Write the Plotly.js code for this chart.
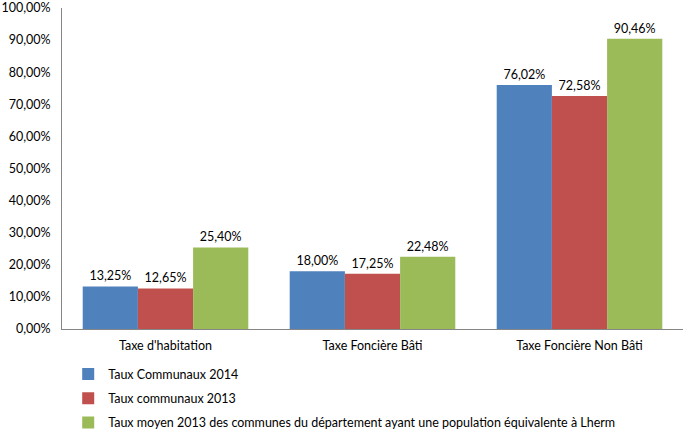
<!DOCTYPE html>
<html>
<head>
<meta charset="utf-8">
<script src="https://cdn.plot.ly/plotly-3.0.1.min.js"></script>
<style>html,body{margin:0;padding:0;background:#fff;}#chart{width:687px;height:434px;}</style>
</head>
<body>
<div id="chart"></div>
<script>
const categories = ["Taxe d'habitation", "Taxe Foncière Bâti", "Taxe Foncière Non Bâti"];
const seriesNames = ["Taux Communaux 2014", "Taux communaux 2013", "Taux moyen 2013 des communes du département ayant une population équivalente à Lherm"];
const taux2014 = [13.25, 18.00, 76.02];
const taux2013 = [12.65, 17.25, 72.58];
const tauxMoyen = [25.40, 22.48, 90.46];
const colors = ["#4F81BD", "#C0504D", "#9BBB59"];
const yTicks = [0,10,20,30,40,50,60,70,80,90,100];
const yTickLabels = ["0,00%","10,00%","20,00%","30,00%","40,00%","50,00%","60,00%","70,00%","80,00%","90,00%","100,00%"];

const font = {family: "Lato, 'Open Sans', sans-serif", size: 12.5, color: "#000"};
const series = [taux2014, taux2013, tauxMoyen];
const traces = series.map((vals, i) => ({
  type: 'bar', x: categories, y: vals, name: seriesNames[i],
  marker: {color: colors[i]},
  text: vals.map(v => v.toFixed(2).replace('.', ',') + '%'),
  texttemplate: '%{text}', textposition: 'outside', cliponaxis: false,
  textfont: font, legendgroup: 'g' + i, hoverinfo: 'none'
}));

Plotly.newPlot('chart', traces, {
  width: 687, height: 434,
  margin: {l: 62, r: 4, t: 8, b: 105},
  font: font,
  paper_bgcolor: '#fff', plot_bgcolor: '#fff',
  barmode: 'group', bargap: 0.2, bargroupgap: 0,
  xaxis: {showline: true, linecolor: '#868686', linewidth: 1, ticks: 'outside', ticklen: 5, tickcolor: 'rgba(0,0,0,0)', tickfont: font, showgrid: false, fixedrange: true},
  yaxis: {range: [0, 100.001], tickmode: 'array', tickvals: yTicks, ticktext: yTickLabels, ticklabeloverflow: 'allow', showline: true, linecolor: '#868686', linewidth: 1, showgrid: false, zeroline: false, ticks: 'outside', ticklen: 8, tickcolor: 'rgba(0,0,0,0)', tickfont: font, fixedrange: true, automargin: false},
  showlegend: true,
  legend: {orientation: 'v', xref: 'paper', x: 0.01, xanchor: 'left', yref: 'container', y: 0.172, yanchor: 'top', font: font, tracegroupgap: 5, itemwidth: 30, bgcolor: 'rgba(0,0,0,0)'}
}, {staticPlot: true});
</script>
</body>
</html>
